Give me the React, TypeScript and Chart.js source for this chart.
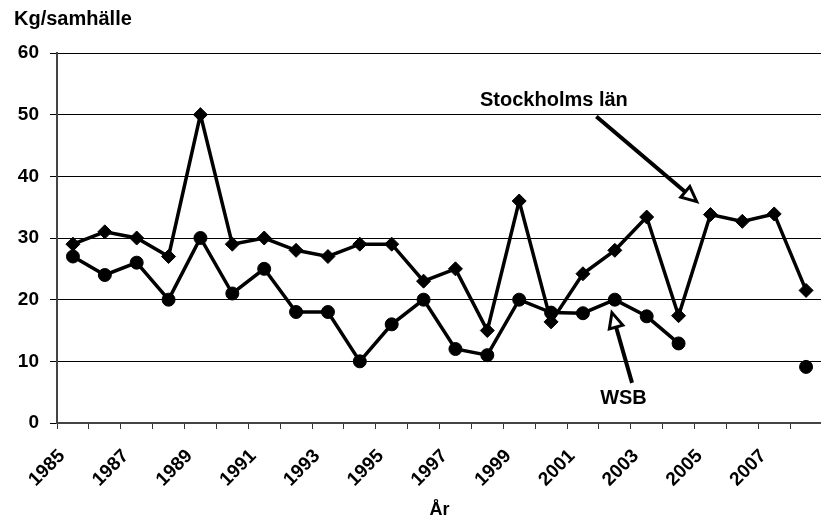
import React, { useEffect, useRef } from "react";
import { Chart, registerables } from "chart.js";

Chart.register(...registerables);

const years = [
  "1985", "1986", "1987", "1988", "1989", "1990", "1991", "1992",
  "1993", "1994", "1995", "1996", "1997", "1998", "1999", "2000",
  "2001", "2002", "2003", "2004", "2005", "2006", "2007", "2008",
];

const stockholmsLan = [
  29, 31, 30, 27, 50, 29, 30, 28, 27, 29, 29, 23,
  25, 15, 36, 16.4, 24.2, 28, 33.4, 17.4, 33.8, 32.7, 33.9, 21.5,
];

const wsb: (number | null)[] = [
  27, 24, 26, 20, 30, 21, 25, 18, 18, 10, 16, 20,
  12, 11, 20, 17.9, 17.8, 20, 17.3, 12.9, null, null, null, 9.1,
];

const yTicks = [0, 10, 20, 30, 40, 50, 60];

const FONT = "'Liberation Sans', Arial, Helvetica, sans-serif";

// annotation anchors in data coordinates (category index, value)
const labelStockholm = { text: "Stockholms län", x: 12.77, y: 51.4 };
const arrowStockholm = { x1: 16.42, y1: 49.7, x2: 19.57, y2: 35.9 };
const labelWsb = { text: "WSB", x: 16.54, y: 3.1 };
const arrowWsb = { x1: 17.54, y1: 6.5, x2: 16.91, y2: 17.9 };

function drawArrow(ctx: CanvasRenderingContext2D, x1: number, y1: number, x2: number, y2: number) {
  const ang = Math.atan2(y2 - y1, x2 - x1);
  const headLen = 15;
  const headW = 7;
  const bx = x2 - headLen * Math.cos(ang);
  const by = y2 - headLen * Math.sin(ang);
  ctx.save();
  ctx.strokeStyle = "#000";
  ctx.lineWidth = 4;
  ctx.beginPath();
  ctx.moveTo(x1, y1);
  ctx.lineTo(bx, by);
  ctx.stroke();
  const px = -Math.sin(ang);
  const py = Math.cos(ang);
  ctx.beginPath();
  ctx.moveTo(x2, y2);
  ctx.lineTo(bx + px * headW, by + py * headW);
  ctx.lineTo(bx - px * headW, by - py * headW);
  ctx.closePath();
  ctx.fillStyle = "#fff";
  ctx.fill();
  ctx.lineWidth = 3;
  ctx.lineJoin = "miter";
  ctx.stroke();
  ctx.restore();
}

const annotationPlugin = {
  id: "annotations",
  afterDraw(chart: any) {
    const ctx: CanvasRenderingContext2D = chart.ctx;
    const xs = chart.scales.x;
    const ys = chart.scales.y;
    ctx.save();
    ctx.fillStyle = "#000";
    ctx.font = `bold 20px ${FONT}`;
    ctx.textAlign = "left";
    ctx.textBaseline = "alphabetic";
    ctx.fillText("Kg/samhälle", 14, 25);
    ctx.fillText(labelStockholm.text, xs.getPixelForValue(labelStockholm.x), ys.getPixelForValue(labelStockholm.y));
    ctx.fillText(labelWsb.text, xs.getPixelForValue(labelWsb.x), ys.getPixelForValue(labelWsb.y));
    drawArrow(
      ctx,
      xs.getPixelForValue(arrowStockholm.x1), ys.getPixelForValue(arrowStockholm.y1),
      xs.getPixelForValue(arrowStockholm.x2), ys.getPixelForValue(arrowStockholm.y2)
    );
    drawArrow(
      ctx,
      xs.getPixelForValue(arrowWsb.x1), ys.getPixelForValue(arrowWsb.y1),
      xs.getPixelForValue(arrowWsb.x2), ys.getPixelForValue(arrowWsb.y2)
    );
    ctx.restore();
  },
};

export default function App() {
  const ref = useRef<HTMLCanvasElement | null>(null);

  useEffect(() => {
    if (!ref.current) return;
    const chart = new Chart(ref.current, {
      type: "line",
      data: {
        labels: years,
        datasets: [
          {
            label: "Stockholms län",
            data: stockholmsLan,
            borderColor: "#000",
            backgroundColor: "#000",
            borderWidth: 3.5,
            pointStyle: "rectRot",
            pointRadius: 7,
            pointBorderWidth: 1,
            tension: 0,
          },
          {
            label: "WSB",
            data: wsb,
            borderColor: "#000",
            backgroundColor: "#000",
            borderWidth: 3.5,
            pointStyle: "circle",
            pointRadius: 6.5,
            pointBorderWidth: 1,
            tension: 0,
            spanGaps: false,
          },
        ],
      },
      options: {
        responsive: false,
        animation: false,
        layout: { padding: { top: 53, right: 4, bottom: 0, left: 0 } },
        plugins: {
          legend: { display: false },
          title: { display: false },
          tooltip: { enabled: false },
        },
        scales: {
          x: {
            type: "category",
            offset: true,
            grid: {
              offset: true,
              drawOnChartArea: false,
              drawTicks: true,
              tickLength: 6,
              color: "#333",
              lineWidth: 1,
            },
            border: { display: true, color: "#444", width: 2 },
            ticks: {
              autoSkip: false,
              maxRotation: 45,
              minRotation: 45,
              padding: 16,
              labelOffset: -11,
              color: "#000",
              font: { family: FONT, size: 19, weight: "bold" },
              callback: (_v: any, i: number) => (i % 2 === 0 ? years[i] : ""),
            },
            title: {
              display: true,
              text: "År",
              color: "#000",
              font: { family: FONT, size: 18, weight: "bold" },
              padding: { top: 0, bottom: -1 },
            },
            afterFit: (s: any) => {
              s.height = 97;
              s.paddingLeft = 0;
              s.paddingRight = 0;
            },
          },
          y: {
            min: 0,
            max: 60,
            afterBuildTicks: (s: any) => {
              s.ticks = yTicks.map((v) => ({ value: v }));
            },
            grid: {
              color: "#000",
              lineWidth: 1,
              drawTicks: true,
              tickLength: 7,
            },
            border: { display: true, color: "#444", width: 2 },
            ticks: {
              padding: 11,
              color: "#000",
              font: { family: FONT, size: 19, weight: "bold" },
            },
            afterFit: (s: any) => {
              s.width = 57;
              s.paddingTop = 0;
              s.paddingBottom = 0;
            },
          },
        },
      },
      plugins: [annotationPlugin],
    });
    return () => chart.destroy();
  }, []);

  return (
    <div
      style={{
        position: "fixed",
        left: 0,
        top: 0,
        width: 821,
        height: 520,
        overflow: "hidden",
        background: "#fff",
      }}
    >
      <canvas ref={ref} width={830} height={520} style={{ display: "block" }} />
    </div>
  );
}
